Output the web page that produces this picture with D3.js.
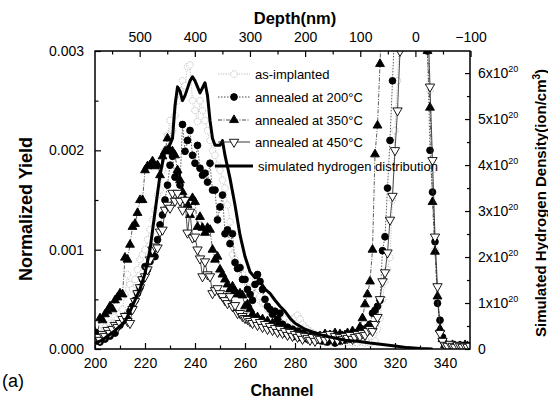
<!DOCTYPE html>
<html>
<head>
<meta charset="utf-8">
<script src="https://cdn.jsdelivr.net/npm/d3@7/dist/d3.min.js"></script>
<style>
  body { margin: 0; background: #fff; }
  svg { display: block; font-family: 'Liberation Sans', Arial, Helvetica, sans-serif; }
</style>
</head>
<body>
<svg id="chart" width="548" height="401"></svg>
<script>
// channels 200..350, one point per channel; yields are in units of 1e-4
const channels = d3.range(200, 351);
const asImplanted = [
  1.5, 1.2, 1.8, 1.6, 2.2, 2.0, 2.6, 2.5, 3.2, 3.0,
  3.6, 4.0, 5.5, 7.5, 6.5, 6.0, 7.0, 8.0, 9.0, 9.5,
  10.0, 11.0, 12.0, 13.0, 14.0, 15.5, 16.0, 18.0, 20.0, 21.5,
  23.0, 22.0, 23.5, 25.0, 26.0, 27.0, 26.5, 28.4, 28.6, 25.0,
  24.0, 22.9, 25.0, 24.0, 23.0, 22.0, 21.0, 20.0, 19.5, 18.5,
  18.0, 17.0, 16.2, 14.5, 12.8, 9.5, 9.0, 8.5, 8.1, 7.5,
  7.0, 6.5, 6.8, 6.0, 5.5, 5.0, 5.3, 4.6, 4.5, 4.0,
  3.8, 3.5, 3.6, 3.0, 3.2, 2.8, 3.0, 2.6, 2.8, 3.0,
  3.2, 3.4, 3.0, 2.5, 2.2, 2.0, 1.8, 1.6, 1.5, 1.4,
  1.3, 1.2, 1.0, 1.1, 0.9, 1.0, 0.8, 0.9, 0.7, 0.8,
  0.9, 0.7, 0.8, 0.6, 0.7, 0.6, 0.8, 0.7, 0.6, 0.7,
  0.6, 0.7, 0.8, 2.0, 3.1, 5.0, 6.8, 8.0, 9.2, 15.0,
  22, 27, 33, 45, 55, 65, 72, 75, 75, 72,
  68, 60, 50, 38, 26, 18, 10, 5, 2.5, 1.2,
  0.6, 0.4, 0.3, 0.5, 0.3, 0.2, 0.4, 0.3, 0.2, 0.3, 0.2
];
const annealed200 = [
  0.8, 1.0, 0.7, 1.2, 1.0, 1.4, 1.3, 1.9, 1.6, 2.2,
  2.4, 2.8, 3.3, 3.0, 3.8, 4.3, 4.9, 5.6, 6.2, 7.0,
  8.3, 8.0, 8.8, 9.5, 9.3, 11.0, 12.5, 13.5, 15.0, 16.5,
  18.5, 19.4, 17.3, 17.7, 16.5, 22.6, 19.9, 21.0, 22.0, 19.5,
  18.7, 20.5, 18.2, 17.5, 17.7, 16.8, 18.7, 16.0, 16.0, 13.0,
  14.3, 15.5, 11.6, 12.0, 10.6, 11.6, 8.7, 8.1, 8.2, 7.0,
  7.0, 6.0, 5.5, 4.9, 6.5, 7.5, 6.8, 6.0, 5.0, 4.3,
  4.0, 3.5, 3.8, 3.0, 3.6, 2.5, 1.6, 2.2, 1.8, 2.0,
  1.5, 1.8, 1.2, 1.6, 1.4, 1.0, 1.3, 1.1, 1.4, 0.9,
  1.2, 0.8, 1.0, 0.7, 1.1, 0.9, 0.6, 1.0, 0.8, 1.2,
  0.9, 1.3, 1.0, 1.4, 1.2, 1.6, 1.5, 2.0, 1.8, 2.2,
  2.5, 3.6, 3.9, 4.3, 4.9, 9.9, 11.3, 16.2, 21.0, 27.0,
  33, 40, 50, 60, 65, 70, 70, 68, 65, 60,
  55, 45, 38, 30, 20, 15.8, 10.8, 4.6, 2.9, 1.2,
  0.5, 0.3, 0.4, 0.2, 0.3, 0.2, 0.4, 0.2, 0.3, 0.2, 0.3
];
const annealed350 = [
  1.7, 1.5, 3.1, 2.9, 3.5, 3.8, 4.3, 4.0, 4.9, 5.2,
  5.6, 5.5, 9.2, 9.0, 10.5, 12.3, 12.6, 13.7, 15.0, 15.0,
  18.0, 18.4, 18.5, 18.9, 18.4, 18.5, 17.5, 19.4, 19.9, 21.2,
  20.0, 19.9, 19.5, 18.0, 17.0, 15.8, 15.0, 14.5, 13.5, 15.2,
  14.8, 12.3, 13.3, 12.2, 11.7, 12.2, 12.0, 10.0, 9.0, 9.3,
  8.0, 7.5, 7.0, 6.5, 6.0, 6.3, 5.8, 5.5, 5.6, 5.4,
  4.3, 4.5, 4.0, 3.5, 2.6, 3.2, 2.8, 3.0, 2.5, 2.8,
  2.3, 2.6, 2.0, 2.4, 1.8, 2.1, 1.6, 1.9, 1.4, 1.7,
  1.5, 1.2, 1.6, 1.1, 1.4, 1.0, 1.3, 0.9, 1.2, 1.0,
  1.3, 0.9, 1.5, 1.1, 1.4, 1.0, 1.6, 1.2, 1.5, 1.3,
  1.4, 1.6, 1.2, 1.8, 1.5, 1.5, 2.2, 3.1, 4.5, 5.5,
  6.8, 10.0, 19.6, 22.5, 28.7, 35, 42, 50, 58, 62,
  65, 68, 70, 70, 68, 66, 64, 60, 56, 52,
  48, 42, 36, 30, 24.3, 14.8, 9.8, 5.3, 2.0, 1.0,
  0.4, 0.3, 0.2, 0.4, 0.3, 0.2, 0.3, 0.2, 0.4, 0.3, 0.2
];
const annealed450 = [
  0.8, 1.2, 0.9, 1.5, 1.3, 1.9, 1.6, 2.0, 2.4, 2.2,
  2.6, 3.0, 3.3, 2.8, 2.6, 4.0, 4.8, 5.6, 6.2, 7.0,
  7.3, 8.0, 9.0, 10.0, 10.3, 10.2, 11.8, 12.0, 14.0, 14.5,
  14.2, 15.7, 14.9, 15.7, 14.9, 14.0, 15.0, 11.7, 13.8, 11.2,
  11.3, 10.0, 9.1, 7.3, 8.8, 7.5, 7.3, 5.6, 5.9, 6.1,
  5.6, 5.3, 4.9, 4.6, 5.3, 4.3, 4.4, 3.6, 3.6, 3.3,
  3.1, 3.0, 2.8, 2.6, 2.9, 2.4, 2.7, 2.2, 2.5, 2.0,
  2.3, 1.9, 2.1, 1.7, 2.0, 1.6, 1.8, 1.4, 1.7, 1.3,
  1.5, 1.2, 1.4, 1.0, 1.3, 1.1, 0.9, 1.2, 0.8, 1.1,
  1.0, 1.4, 0.9, 1.2, 1.5, 1.0, 1.3, 0.9, 1.2, 1.0,
  1.3, 1.1, 1.4, 1.0, 1.2, 1.5, 1.3, 1.6, 1.4, 1.8,
  2.0, 1.8, 2.5, 3.2, 5.0, 6.8, 7.7, 9.7, 13.0, 15.4,
  20, 24, 30, 38, 48, 58, 65, 68, 68, 66,
  62, 55, 45, 34, 26.4, 19, 11.3, 6.3, 1.6, 0.8,
  0.4, 0.3, 0.5, 0.3, 0.2, 0.4, 0.3, 0.2, 0.3, 0.2, 0.3
];
// simulated hydrogen distribution, density in 1e20 ion/cm3 (right axis)
const simChannels = [200, 202, 204, 206, 208, 210, 212, 214, 216, 218, 220, 222, 224, 226, 228, 230, 231, 232, 233, 234,
  235, 236, 238, 239, 240, 242, 244, 245, 246, 247, 248, 250, 251, 252, 254, 256, 258, 260, 262, 264,
  265, 266, 268, 270, 272, 274, 276, 278, 280, 284, 288, 292, 296, 300, 305, 310, 315, 320, 325, 330, 335];
const simDensity = [0.13, 0.17, 0.24, 0.32, 0.40, 0.50, 0.60, 0.82, 1.06, 1.30, 1.64, 2.16, 2.98, 3.78, 4.32, 4.45, 4.58, 5.29, 5.70, 5.61,
  5.40, 5.51, 5.83, 5.92, 5.83, 5.57, 5.79, 5.51, 4.97, 4.58, 4.43, 4.43, 4.53, 4.21, 3.71, 3.13, 2.48, 2.01, 1.68, 1.55,
  1.58, 1.47, 1.30, 1.21, 1.06, 0.93, 0.82, 0.67, 0.56, 0.43, 0.35, 0.28, 0.24, 0.19, 0.17, 0.13, 0.10, 0.065, 0.03, 0.01, 0];

const yieldTicks = [0, 0.001, 0.002, 0.003];
const yieldMinor = [0.0005, 0.0015, 0.0025];
const channelTicks = [200, 220, 240, 260, 280, 300, 320, 340];
const channelMinor = [210, 230, 250, 270, 290, 310, 330];
const depthTicks = [500, 400, 300, 200, 100, 0, -100];
const depthMinor = [550, 450, 350, 250, 150, 50, -50];
const densityTicks = [0, 1, 2, 3, 4, 5, 6];
const densityMinor = [0.5, 1.5, 2.5, 3.5, 4.5, 5.5];

const svg = d3.select('#chart');
const L = 95, R = 470, T = 51, B = 349;

const x = d3.scaleLinear().domain([200, 350]).range([L, R]);
const xTop = d3.scaleLinear().domain([581, -99]).range([L, R]);
const y = d3.scaleLinear().domain([0, 0.003]).range([B, T]);
const yR = d3.scaleLinear().domain([0, 6.48]).range([B, T]);

svg.append('defs').append('clipPath').attr('id', 'plot')
  .append('rect').attr('x', L).attr('y', T).attr('width', R - L).attr('height', B - T);

// axes (ticks point inward)
function styleAxis(g, size) {
  g.select('.domain').remove();
  g.selectAll('line').attr('stroke', '#000').attr('stroke-width', 1.2);
  g.selectAll('text').attr('font-size', size).attr('fill', '#000').attr('font-family', null);
}
svg.append('g').attr('transform', `translate(${L},0)`)
  .call(d3.axisLeft(y).tickValues(yieldTicks).tickSize(-6).tickPadding(11).tickFormat(d3.format('.3f')))
  .call(g => styleAxis(g, 14));
svg.append('g').attr('transform', `translate(${L},0)`)
  .call(d3.axisLeft(y).tickValues(yieldMinor).tickSize(-3.5).tickFormat(''))
  .call(g => styleAxis(g, 14));
svg.append('g').attr('transform', `translate(0,${B})`)
  .call(d3.axisBottom(x).tickValues(channelTicks).tickSize(-6).tickPadding(9))
  .call(g => styleAxis(g, 14));
svg.append('g').attr('transform', `translate(0,${B})`)
  .call(d3.axisBottom(x).tickValues(channelMinor).tickSize(-3.5).tickFormat(''))
  .call(g => styleAxis(g, 14));
svg.append('g').attr('transform', `translate(0,${T})`)
  .call(d3.axisTop(xTop).tickValues(depthTicks).tickSize(-6).tickPadding(9))
  .call(g => styleAxis(g, 14));
svg.append('g').attr('transform', `translate(0,${T})`)
  .call(d3.axisTop(xTop).tickValues(depthMinor).tickSize(-3.5).tickFormat(''))
  .call(g => styleAxis(g, 14));
const rAxis = svg.append('g').attr('transform', `translate(${R},0)`)
  .call(d3.axisRight(yR).tickValues(densityTicks).tickSize(-5).tickPadding(8).tickFormat(''))
  .call(g => styleAxis(g, 14));
svg.append('g').attr('transform', `translate(${R},0)`)
  .call(d3.axisRight(yR).tickValues(densityMinor).tickSize(-3).tickFormat(''))
  .call(g => styleAxis(g, 14));
rAxis.selectAll('.tick text').each(function (d) {
  const t = d3.select(this).attr('dy', '0.35em').attr('x', 8);
  if (d === 0) { t.text('0'); return; }
  t.append('tspan').text(d + 'x10');
  t.append('tspan').attr('font-size', 9).attr('dy', '-0.75em').text('20');
});

// data
const plot = svg.append('g').attr('clip-path', 'url(#plot)');
const series = [
  { name: 'as-implanted', values: asImplanted, stroke: '#b0b0b0', dash: '1.2,1.4', symbol: d3.symbolCircle, size: 34, fill: '#fff', mStroke: '#b4b4b4', mDash: '1.2,1', rot: 0 },
  { name: 'annealed at 200°C', values: annealed200, stroke: '#333', dash: '1.5,1.5', symbol: d3.symbolCircle, size: 36, fill: '#000', mStroke: '#000', mDash: null, rot: 0 },
  { name: 'annealed at 350°C', values: annealed350, stroke: '#333', dash: '4,1.5,1,1.5', symbol: d3.symbolTriangle, size: 34, fill: '#000', mStroke: '#000', mDash: null, rot: 0 },
  { name: 'annealed at 450°C', values: annealed450, stroke: '#222', dash: null, symbol: d3.symbolTriangle, size: 38, fill: '#fff', mStroke: '#000', mDash: null, rot: 180 }
];
const line = d3.line().x(d => x(d.ch)).y(d => y(d.v * 1e-4));

series.forEach(s => {
  const pts = channels.map((ch, i) => ({ ch, v: s.values[i] }));
  plot.append('path').datum(pts)
    .attr('fill', 'none').attr('stroke', s.stroke).attr('stroke-width', 0.8)
    .attr('stroke-dasharray', s.dash).attr('d', line);
  plot.append('g').selectAll('path').data(pts).join('path')
    .attr('transform', d => `translate(${x(d.ch)},${y(d.v * 1e-4)}) rotate(${s.rot})`)
    .attr('d', d3.symbol().type(s.symbol).size(s.size))
    .attr('fill', s.fill).attr('stroke', s.mStroke).attr('stroke-width', 0.9)
    .attr('stroke-dasharray', s.mDash);
});

const sim = simChannels.map((ch, i) => ({ ch, v: simDensity[i] }));
plot.append('path').datum(sim)
  .attr('fill', 'none').attr('stroke', '#000').attr('stroke-width', 3).attr('stroke-linejoin', 'round')
  .attr('d', d3.line().x(d => x(d.ch)).y(d => yR(d.v)));

// frame
svg.append('rect').attr('x', L).attr('y', T).attr('width', R - L).attr('height', B - T)
  .attr('fill', 'none').attr('stroke', '#000').attr('stroke-width', 1.5);

// legend
const legY = [74, 97, 120, 142];
const leg = svg.append('g');
series.forEach((s, i) => {
  leg.append('line').attr('x1', 218).attr('x2', 250).attr('y1', legY[i]).attr('y2', legY[i])
    .attr('stroke', s.stroke).attr('stroke-width', 0.9).attr('stroke-dasharray', s.dash);
  leg.append('path').attr('transform', `translate(234,${legY[i]}) rotate(${s.rot})`)
    .attr('d', d3.symbol().type(s.symbol).size(s.size))
    .attr('fill', s.fill).attr('stroke', s.mStroke).attr('stroke-width', 0.9).attr('stroke-dasharray', s.mDash);
  leg.append('text').attr('x', 255).attr('y', legY[i] + 4.7).attr('font-size', 13).text(s.name);
});
leg.append('line').attr('x1', 215).attr('x2', 253).attr('y1', 166).attr('y2', 166)
  .attr('stroke', '#000').attr('stroke-width', 3);
leg.append('text').attr('x', 258).attr('y', 170.7).attr('font-size', 13).text('simulated hydrogen distribution');

// titles
svg.append('text').attr('x', 295).attr('y', 24).attr('text-anchor', 'middle')
  .attr('font-size', 16.5).attr('font-weight', 'bold').text('Depth(nm)');
svg.append('text').attr('x', 282).attr('y', 396).attr('text-anchor', 'middle')
  .attr('font-size', 16).attr('font-weight', 'bold').text('Channel');
svg.append('text').attr('transform', 'translate(32,209) rotate(-90)').attr('text-anchor', 'middle')
  .attr('font-size', 18).attr('font-weight', 'bold').text('Normalized Yield');
const rl = svg.append('text').attr('transform', 'translate(546,203) rotate(-90)').attr('text-anchor', 'middle')
  .attr('font-size', 15).attr('font-weight', 'bold');
rl.append('tspan').text('Simulated Hydrogen Density(ion/cm');
rl.append('tspan').attr('font-size', 10).attr('dy', -6).text('3');
rl.append('tspan').attr('dy', 6).text(')');
svg.append('text').attr('x', 2).attr('y', 387).attr('font-size', 18).text('(a)');
</script>
</body>
</html>
